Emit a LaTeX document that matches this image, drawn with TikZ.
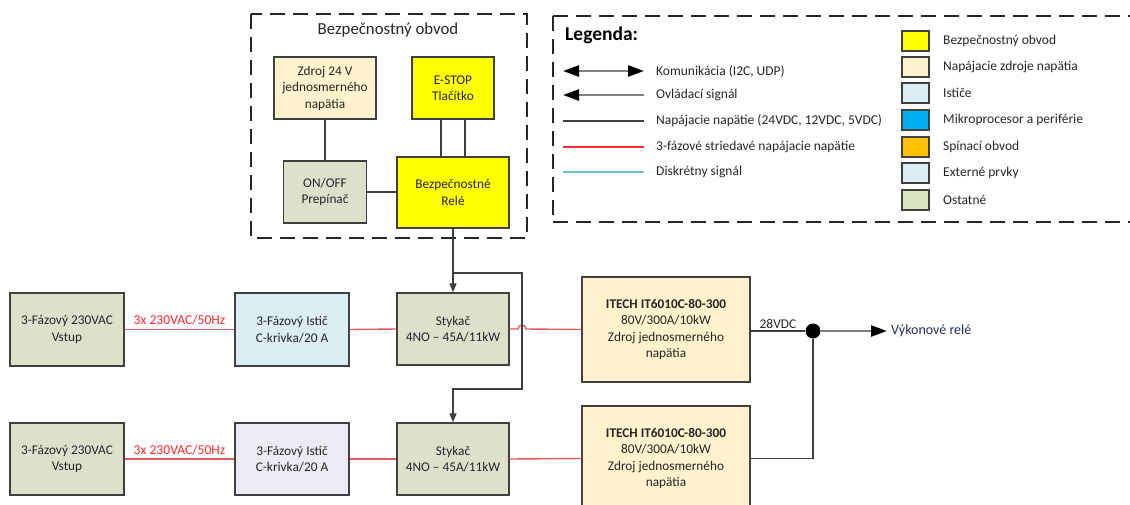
\documentclass[tikz,border=0pt]{standalone}
\usepackage{fontspec}
\setmainfont{Carlito}
\usetikzlibrary{arrows.meta}

\definecolor{edge}{HTML}{404040}
\definecolor{ink}{HTML}{262626}
\definecolor{olive}{HTML}{DDE1CC}
\definecolor{olivesw}{HTML}{D8E4BC}
\definecolor{beige}{HTML}{FFF2CC}
\definecolor{skyl}{HTML}{DAEEF3}
\definecolor{lilac}{HTML}{ECEAF2}
\definecolor{mcu}{HTML}{00B0F0}
\definecolor{orangec}{HTML}{FFC000}
\definecolor{yell}{HTML}{FFFF00}
\definecolor{acred}{HTML}{E05A5A}
\definecolor{acredtxt}{HTML}{FF2A2A}
\definecolor{discr}{HTML}{6CC3D5}
\definecolor{sig}{HTML}{7F7F7F}
\definecolor{navy}{HTML}{1F2F5F}

\tikzset{
  blk/.style={draw=edge, line width=1.3pt, rectangle, align=center, text=ink,
    font=\fontsize{13.3}{16.5}\selectfont, inner sep=2pt},
  wire/.style={draw=edge, line width=1.2pt},
  acline/.style={draw=acred, line width=1.4pt},
  aclabel/.style={text=acredtxt, font=\fontsize{13.6}{15}\selectfont, inner sep=1pt},
  ctrlarrow/.style={wire, -{Triangle[length=9pt,width=7pt]}},
  sigline/.style={draw=sig, line width=2.5pt},
  bighead/.style={-{Triangle[length=16pt,width=11pt,color=black]}},
  legtext/.style={anchor=west, text=ink, font=\fontsize{13.5}{15}\selectfont, inner sep=0pt},
  swatch/.style={draw=edge, line width=1.3pt, minimum width=27pt, minimum height=20pt, inner sep=0pt},
  frame/.style={draw=black!85, line width=2pt, dash pattern=on 15pt off 8pt},
}

\begin{document}
\begin{tikzpicture}[x=1pt,y=-1pt]
\useasboundingbox (0,0) rectangle (1130,504);

% ---------- safety circuit ----------
\draw[frame] (251,14) rectangle (527,238);
\node[text=ink, font=\fontsize{16.8}{19}\selectfont] (sctitle) at (388,30) {Bezpečnostný obvod};

\node[blk, fill=beige, minimum width=102pt, minimum height=62pt] (zdroj) at (325,88)
  {Zdroj 24 V\\jednosmerného\\napätia};
\node[blk, fill=yell, minimum width=82pt, minimum height=62pt] (estop) at (453,88)
  {E-STOP\\Tlačítko};
\node[blk, fill=olive, minimum width=83pt, minimum height=62pt] (onoff) at (325,192)
  {ON/OFF\\Prepínač};
\node[blk, fill=yell, minimum width=112pt, minimum height=71pt] (rele) at (453,192.5)
  {Bezpečnostné\\Relé};

\draw[wire] (zdroj.south) -- (onoff.north);
\draw[wire] ([xshift=-12pt]estop.south) -- ([xshift=-12pt]rele.north);
\draw[wire] ([xshift=12pt]estop.south) -- ([xshift=12pt]rele.north);
\draw[wire] (onoff.east) -- (onoff.east -| rele.west);

% ---------- legend ----------
\draw[frame] (553,16) -- (1140,16);
\draw[frame] (553,222) -- (1140,222);
\draw[frame] (553,16) -- (553,222);
\node[anchor=west, font=\fontsize{19.5}{21}\selectfont\bfseries, text=black, inner sep=0pt] (legtitle) at (565,35) {Legenda:};

\coordinate (la1) at (563,71);  \coordinate (lb1) at (644,71);
\coordinate (la2) at (563,95);  \coordinate (lb2) at (644,95);
\coordinate (la3) at (563,121); \coordinate (lb3) at (644,121);
\coordinate (la4) at (563,147); \coordinate (lb4) at (644,147);
\coordinate (la5) at (563,172); \coordinate (lb5) at (644,172);

\draw[sigline, {Triangle[length=16pt,width=11pt,color=black]}-{Triangle[length=16pt,width=11pt,color=black]}] (la1) -- (lb1);
\draw[sigline, {Triangle[length=16pt,width=11pt,color=black]}-] (la2) -- (lb2);
\draw[wire] (la3) -- (lb3);
\draw[draw=acredtxt, line width=1.1pt] (la4) -- (lb4);
\draw[draw=discr, line width=1.4pt] (la5) -- (lb5);

\node[legtext] (lt1) at (656,71)  {Komunikácia (I2C, UDP)};
\node[legtext] (lt2) at (656,95)  {Ovládací signál};
\node[legtext] (lt3) at (656,121) {Napájacie napätie (24VDC, 12VDC, 5VDC)};
\node[legtext] (lt4) at (656,147) {3-fázové striedavé napájacie napätie};
\node[legtext] (lt5) at (656,172) {Diskrétny signál};

\node[swatch, fill=yell]    (sw1) at (915.5,41)  {};
\node[swatch, fill=beige]   (sw2) at (915.5,67)  {};
\node[swatch, fill=skyl]    (sw3) at (915.5,93)  {};
\node[swatch, fill=mcu]     (sw4) at (915.5,120) {};
\node[swatch, fill=orangec] (sw5) at (915.5,147) {};
\node[swatch, fill=skyl]    (sw6) at (915.5,173) {};
\node[swatch, fill=olivesw] (sw7) at (915.5,200) {};

\node[legtext] (st1) at (943,41)  {Bezpečnostný obvod};
\node[legtext] (st2) at (943,67)  {Napájacie zdroje napätia};
\node[legtext] (st3) at (943,93)  {Ističe};
\node[legtext] (st4) at (943,120) {Mikroprocesor a periférie};
\node[legtext] (st5) at (943,147) {Spínací obvod};
\node[legtext] (st6) at (943,173) {Externé prvky};
\node[legtext] (st7) at (943,200) {Ostatné};

% ---------- power rows ----------
\node[blk, fill=olive, minimum width=114pt, minimum height=73pt] (vstup1) at (67,329.5)
  {3-Fázový 230VAC\\Vstup};
\node[blk, fill=skyl, minimum width=114pt, minimum height=73pt] (istic1) at (292,329.5)
  {3-Fázový Istič\\C-krivka/20 A};
\node[blk, fill=olive, minimum width=112pt, minimum height=72pt] (stykac1) at (453,329)
  {Stykač\\4NO -- 45A/11kW};
\node[blk, fill=beige, minimum width=168pt, minimum height=105pt] (itech1) at (666,329.5)
  {\textbf{ITECH IT6010C-80-300}\\80V/300A/10kW\\Zdroj jednosmerného\\napätia};

\node[blk, fill=olive, minimum width=114pt, minimum height=72pt] (vstup2) at (67,459)
  {3-Fázový 230VAC\\Vstup};
\node[blk, fill=lilac, minimum width=114pt, minimum height=72pt] (istic2) at (292,459)
  {3-Fázový Istič\\C-krivka/20 A};
\node[blk, fill=olive, minimum width=112pt, minimum height=72pt] (stykac2) at (453,459)
  {Stykač\\4NO -- 45A/11kW};
\node[blk, fill=beige, minimum width=168pt, minimum height=105pt] (itech2) at (666,458.5)
  {\textbf{ITECH IT6010C-80-300}\\80V/300A/10kW\\Zdroj jednosmerného\\napätia};

% three-phase feeds
\draw[acline] (vstup1.east) -- node[aclabel, above=3pt] {3x 230VAC/50Hz} (istic1.west);
\draw[acline] (istic1.east) -- (stykac1.west);
\draw[acline] (stykac1.east) -- (518,329) arc (180:360:4) -- (itech1.west);
\draw[acline] (vstup2.east) -- node[aclabel, above=2pt] {3x 230VAC/50Hz} (istic2.west);
\draw[acline] (istic2.east) -- (stykac2.west);
\draw[acline] (stykac2.east) -- (itech2.west);

% control from the safety relay to both contactors
\coordinate (split) at (453,273);
\coordinate (c1) at (522,273);
\coordinate (c2) at (522,389);
\coordinate (c3) at (453,389);
\draw[ctrlarrow] (rele.south) -- (stykac1.north);
\draw[ctrlarrow] (split) -- (c1) -- (c2) -- (c3) -- (stykac2.north);

% DC output
\node[circle, fill=black, minimum size=15pt, inner sep=0pt] (dot) at (813,331) {};
\draw[wire] (itech1.east |- dot) -- node[above=1pt, text=ink, font=\fontsize{13.4}{15}\selectfont, inner sep=1pt, pos=0.5] {28VDC} (dot);
\draw[wire] (itech2.east) -- (itech2.east -| dot) -- (dot);
\node[anchor=west, text=navy, font=\fontsize{14}{16}\selectfont, inner sep=4pt] (vyk) at (887,331) {Výkonové relé};
\draw[sigline, bighead] (dot) -- (vyk.west);
\end{tikzpicture}
\end{document}
